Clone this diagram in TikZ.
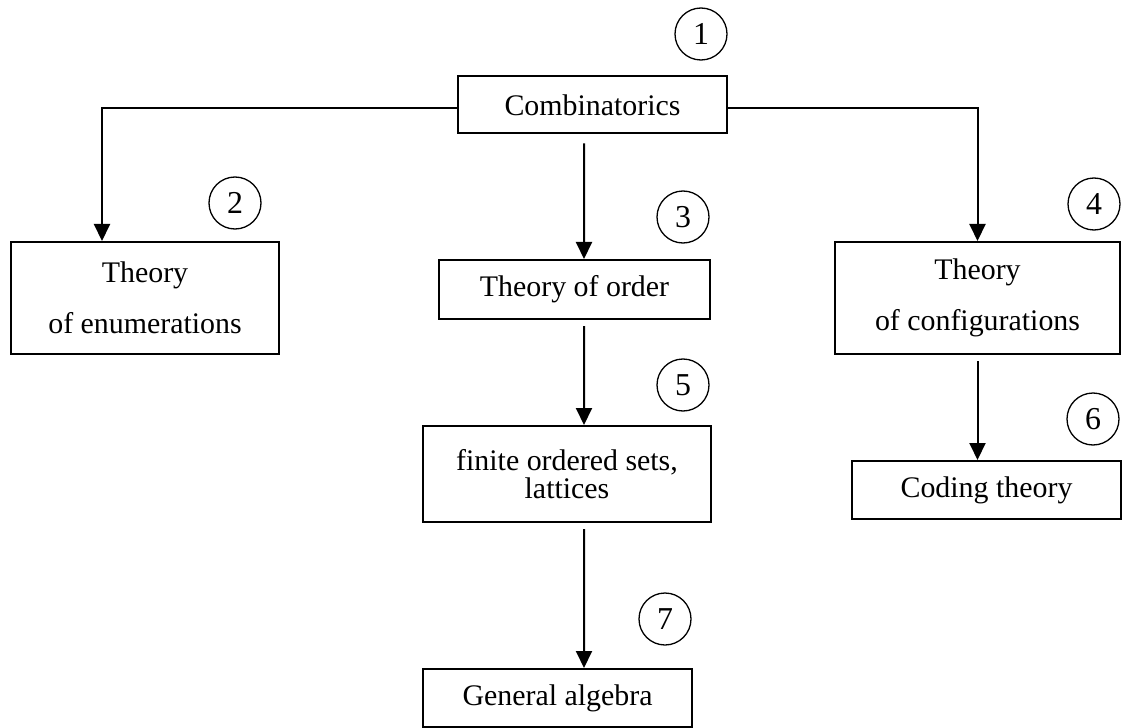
\documentclass[tikz,border=0pt]{standalone}
\usepackage{fontspec}
\setmainfont{Liberation Serif}
\usetikzlibrary{arrows.meta}
\begin{document}
\begin{tikzpicture}[x=1bp,y=-1bp,
  box/.style={draw, line width=2bp, inner sep=0pt, align=center,
    font=\fontsize{30}{51}\selectfont},
  num/.style={draw, circle, line width=1.3bp, minimum size=52bp, inner sep=0pt,
    font=\fontsize{32}{32}\selectfont},
  arr/.style={line width=2bp, -{Triangle[length=17bp,width=16bp]}}]
\useasboundingbox (0,0) rectangle (1122,728);

% boxes
\node[box, minimum width=269bp, minimum height=57bp] (comb) at (592.5,105) {Combinatorics};
\node[box, minimum width=268bp, minimum height=112bp] (enum) at (145,298) {Theory\\of enumerations};
\node[box, minimum width=271bp, minimum height=59bp] (order) at (574.5,289.5) {Theory of order};
\node[box, minimum width=285bp, minimum height=112bp] (conf) at (977.5,298) {Theory\\of configurations};
\node[box, minimum width=288bp, minimum height=96bp, font=\fontsize{30}{28}\selectfont] (fin) at (567,474) {finite ordered sets,\\lattices};
\node[box, minimum width=269bp, minimum height=58bp] (code) at (986.5,490) {Coding theory};
\node[box, minimum width=269bp, minimum height=58bp] (alg) at (557.5,698) {General algebra};

% numbered markers
\node[num] (n1) at (701,34) {1};
\node[num] (n2) at (235,203) {2};
\node[num] (n3) at (683,217) {3};
\node[num] (n4) at (1094,204) {4};
\node[num] (n5) at (683,385) {5};
\node[num] (n6) at (1093,419) {6};
\node[num] (n7) at (665,619) {7};

% connectors
\draw[arr] ([yshift=-3bp]comb.west) -| ([xshift=-43bp]enum.north);
\draw[arr] ([yshift=-3bp]comb.east) -| (conf.north);
\draw[arr, shorten <=9bp] ([xshift=-8.5bp]comb.south) -- ([xshift=9.5bp]order.north);
\draw[arr, shorten <=6bp] ([xshift=9.5bp]order.south) -- ([xshift=17bp]fin.north);
\draw[arr, shorten <=6bp] (conf.south) -- (conf.south |- code.north);
\draw[arr, shorten <=6bp] ([xshift=17bp]fin.south) -- ([xshift=26.5bp]alg.north);
\end{tikzpicture}
\end{document}
